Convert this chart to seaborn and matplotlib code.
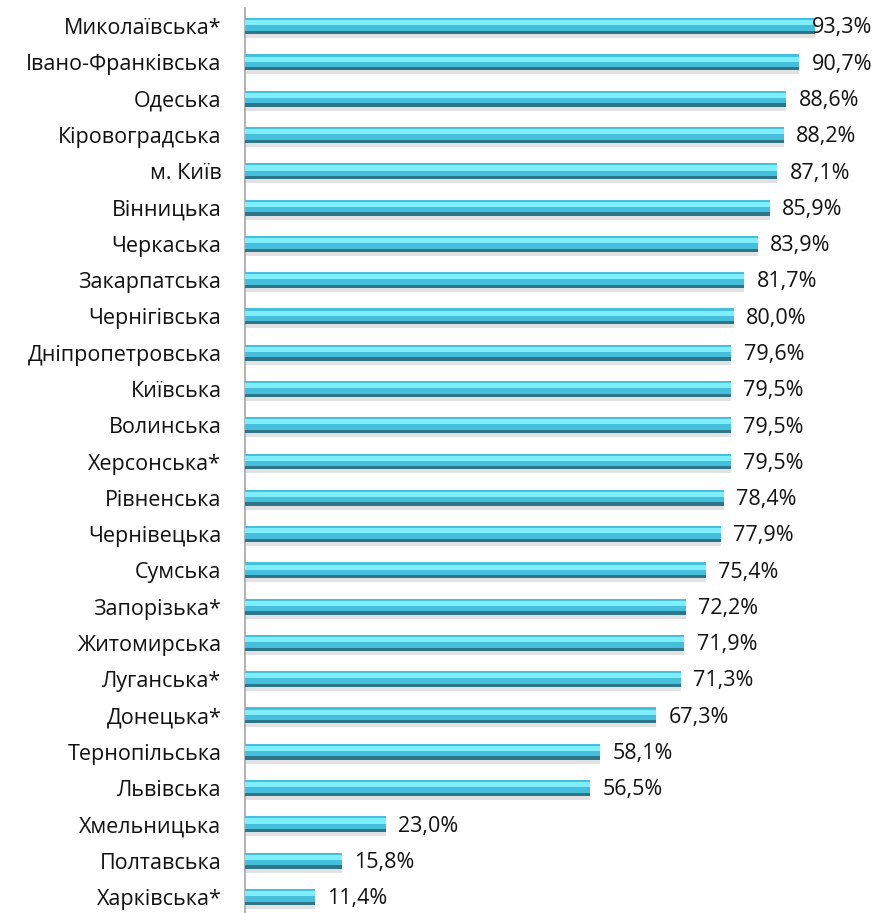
"""Share of regions, horizontal bar chart with bevelled cyan bars."""
import matplotlib
matplotlib.use("Agg")
import matplotlib.pyplot as plt
import numpy as np
import pandas as pd
import seaborn as sns

# -- Data ----------------------------------------------------------------------
REGIONS = [
    "Миколаївська*", "Івано-Франківська", "Одеська", "Кіровоградська", "м. Київ",
    "Вінницька", "Черкаська", "Закарпатська", "Чернігівська", "Дніпропетровська",
    "Київська", "Волинська", "Херсонська*", "Рівненська", "Чернівецька",
    "Сумська", "Запорізька*", "Житомирська", "Луганська*", "Донецька*",
    "Тернопільська", "Львівська", "Хмельницька", "Полтавська", "Харківська*",
]
VALUES = [
    93.3, 90.7, 88.6, 88.2, 87.1,
    85.9, 83.9, 81.7, 80.0, 79.6,
    79.5, 79.5, 79.5, 78.4, 77.9,
    75.4, 72.2, 71.9, 71.3, 67.3,
    58.1, 56.5, 23.0, 15.8, 11.4,
]

# -- Style ---------------------------------------------------------------------
sns.set_theme(style="white")
plt.rcParams["font.family"] = ["Open Sans", "DejaVu Sans"]

BASE = "#45bfdb"
LIGHT = "#7eeefd"
DARK = "#2d7689"
SHADOW = "#e2e2e2"
BAR_H = 0.44
FONT_SIZE = 15.5

df = pd.DataFrame({"region": REGIONS, "value": VALUES})
pos = np.arange(len(df))

fig = plt.figure(figsize=(8.81, 9.13), dpi=100)
ax = fig.add_axes([245 / 881, -2 / 913, (856 - 245) / 881, 907 / 913])

# soft shadow under each bar
ax.barh(pos + 0.27, df["value"], height=0.12, color=SHADOW, linewidth=0, zorder=1)
sns.barplot(data=df, y="region", x="value", orient="h", color=BASE,
            width=BAR_H, saturation=1, linewidth=0, ax=ax, zorder=2)
# bevel: bright top strip, dark bottom strip
ax.barh(pos - 0.09, df["value"], height=0.14, color=LIGHT, linewidth=0, zorder=3)
ax.barh(pos + 0.175, df["value"], height=0.09, color=DARK, linewidth=0, zorder=3)

for i, v in enumerate(df["value"]):
    ax.text(min(v + 2.0, 92.8), i + 0.05, f"{v:.1f}%".replace(".", ","),
            va="center", ha="left", fontsize=FONT_SIZE, color="#111111", zorder=4)

ax.set_xlim(0, 100)
ax.set_ylim(len(df) - 0.5, -0.5)
ax.set_xlabel("")
ax.set_ylabel("")
ax.set_xticks([])
ax.tick_params(axis="y", length=0, pad=17, labelsize=FONT_SIZE, labelcolor="#111111")
for side in ("top", "right", "bottom"):
    ax.spines[side].set_visible(False)
ax.spines["left"].set_color("#a6a6a6")
ax.spines["left"].set_linewidth(1.2)

fig.savefig("out.png", dpi=100)
